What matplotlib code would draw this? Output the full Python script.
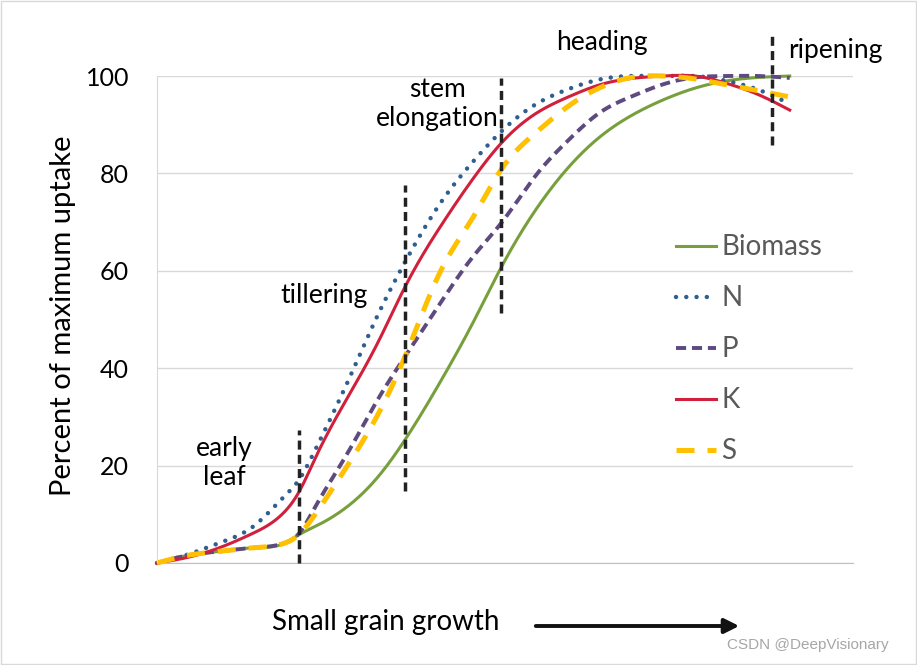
import numpy as np
import matplotlib
matplotlib.use("Agg")
import matplotlib.pyplot as plt
from matplotlib.patches import Rectangle

plt.rcParams['font.family'] = ['Lato', 'DejaVu Sans']

# ---- data ----
growth = [0, 5, 10, 15, 20, 22.4, 25, 30, 35, 39.2, 45, 50, 54.4, 60, 65, 70, 75, 80, 85, 90, 95, 100]
biomass = [0, 1.6, 2.4, 3.1, 4.0, 5.8, 7.5, 11.5, 17.8, 25.3, 37.7, 49.5, 60.7, 72.8, 81.2, 87.5, 91.9, 95.1, 97.5, 99, 99.7, 100]
n_vals = [0, 1.8, 4.2, 7.3, 13.5, 17, 23.2, 36.8, 51.2, 61.8, 74.3, 82.5, 88.6, 94.3, 97.3, 99.3, 100, 100, 100, 99, 97.2, 94.3]
p_vals = [0, 1.6, 2.4, 3.1, 4.0, 6.0, 11.5, 22.3, 33.8, 42.4, 53.8, 63, 69.8, 79.8, 86.8, 92.5, 95.8, 98.3, 99.7, 100, 100, 99.6]
k_vals = [0, 1.2, 3.2, 6.0, 10.3, 14.5, 21.5, 33.7, 45.5, 56.7, 69.5, 79, 86.2, 92.4, 95.7, 98.2, 99.5, 100, 100, 98.5, 96.2, 93.0]
s_vals = [0, 1.6, 2.4, 3.1, 4.0, 5.8, 10, 19.8, 30.7, 42.4, 60.4, 71.1, 80.8, 88.5, 93.8, 97.6, 99.7, 100, 99.4, 98.2, 97.0, 95.7]

series_names = ["Biomass", "N", "P", "K", "S"]

stage_labels = ["early\nleaf", "tillering", "stem\nelongation", "heading", "ripening"]
stage_x = [22.4, 39.2, 54.4, 97.2]
stage_ymin = [0, 14.7, 51.3, 85.8]
stage_ymax = [27.3, 77.6, 99.6, 108.4]

yticks = [0, 20, 40, 60, 80, 100]


def smooth_curve(x, y, xs):
    """Natural cubic spline through the read points (rendering only)."""
    x = np.asarray(x, float); y = np.asarray(y, float)
    n = len(x)
    h = np.diff(x)
    A = np.zeros((n, n)); b = np.zeros(n)
    A[0, 0] = 1; A[-1, -1] = 1
    for i in range(1, n - 1):
        A[i, i - 1] = h[i - 1]
        A[i, i] = 2 * (h[i - 1] + h[i])
        A[i, i + 1] = h[i]
        b[i] = 6 * ((y[i + 1] - y[i]) / h[i] - (y[i] - y[i - 1]) / h[i - 1])
    M = np.linalg.solve(A, b)
    idx = np.clip(np.searchsorted(x, xs) - 1, 0, n - 2)
    x0 = x[idx]; x1 = x[idx + 1]; hh = h[idx]
    t0 = x1 - xs; t1 = xs - x0
    return (M[idx] * t0**3 / (6 * hh) + M[idx + 1] * t1**3 / (6 * hh)
            + (y[idx] / hh - M[idx] * hh / 6) * t0
            + (y[idx + 1] / hh - M[idx + 1] * hh / 6) * t1)


fig = plt.figure(figsize=(9.17, 6.65), dpi=100)
ax = fig.add_axes([157 / 917, 102 / 665, 696 / 917, 487 / 665])

xs = np.linspace(growth[0], growth[-1], 800)

styles = {
    "Biomass": dict(color="#77A03C", lw=2.2, ls="-"),
    "N": dict(color="#2F5F91", lw=3.2, ls=(0, (0.01, 2.3)), dash_capstyle="round"),
    "P": dict(color="#5E4A7E", lw=2.8, ls=(0, (2.6, 1.5))),
    "K": dict(color="#D0203C", lw=2.2, ls="-"),
    "S": dict(color="#FFC000", lw=3.6, ls=(0, (3.6, 2.6))),
}
data = {"Biomass": biomass, "N": n_vals, "P": p_vals, "K": k_vals, "S": s_vals}

for name in series_names:
    st = styles[name]
    ax.plot(xs, smooth_curve(growth, data[name], xs), label=name, clip_on=False, **st)

ax.vlines(stage_x, stage_ymin, stage_ymax, colors="#222222", lw=2.5,
          linestyles=[(0, (2.6, 1.5))], clip_on=False, zorder=5)

ax.set_xlim(0, 110)
ax.set_ylim(0, 100)
ax.set_yticks(yticks)
ax.set_xticks([])
ax.tick_params(axis="y", length=0, pad=20, labelsize=18, labelcolor="black")
ax.grid(axis="y", color="#D9D9D9", lw=1)
ax.set_axisbelow(True)
for sp in ["top", "right"]:
    ax.spines[sp].set_visible(False)
ax.spines["left"].set_color("#D9D9D9")
ax.spines["bottom"].set_color("#BFBFBF")
ax.set_ylabel("Percent of maximum uptake", fontsize=21, color="black")
ax.yaxis.set_label_coords(-0.116, 0.507)

# stage labels
label_pos = [(10.6, 20.5), (26.4, 55), (44.3, 94.3), (70.3, 106.8), (107.2, 105.3)]
for lab, (lx, ly) in zip(stage_labels, label_pos):
    ax.text(lx, ly, lab, ha="center", va="center", fontsize=19, linespacing=1.2,
            clip_on=False)

leg = ax.legend(loc="upper left", bbox_to_anchor=(0.745, 0.675), frameon=False,
                fontsize=20, handlelength=1.45, handletextpad=0.2, labelspacing=0.9,
                borderpad=0, borderaxespad=0)
for t in leg.get_texts():
    t.set_color("#595959")

fig.text(386 / 917, 1 - 622 / 665, "Small grain growth", ha="center", va="center", fontsize=20)
ax.annotate("", xy=(742 / 917, 1 - 626 / 665), xytext=(533 / 917, 1 - 626 / 665),
            xycoords="figure fraction", textcoords="figure fraction",
            arrowprops=dict(arrowstyle="-|>", lw=2.8, color="#111111", mutation_scale=22))

fig.text(808 / 917, 1 - 645 / 665, "CSDN @DeepVisionary", ha="center", va="center",
         fontsize=11, color="#A6A6A6", family=["Liberation Sans", "DejaVu Sans"])

fig.patches.append(Rectangle((0.001, 0.0015), 0.998, 0.997, transform=fig.transFigure,
                             fill=False, edgecolor="#D9D9D9", lw=1))

fig.savefig("out.png", dpi=100)
